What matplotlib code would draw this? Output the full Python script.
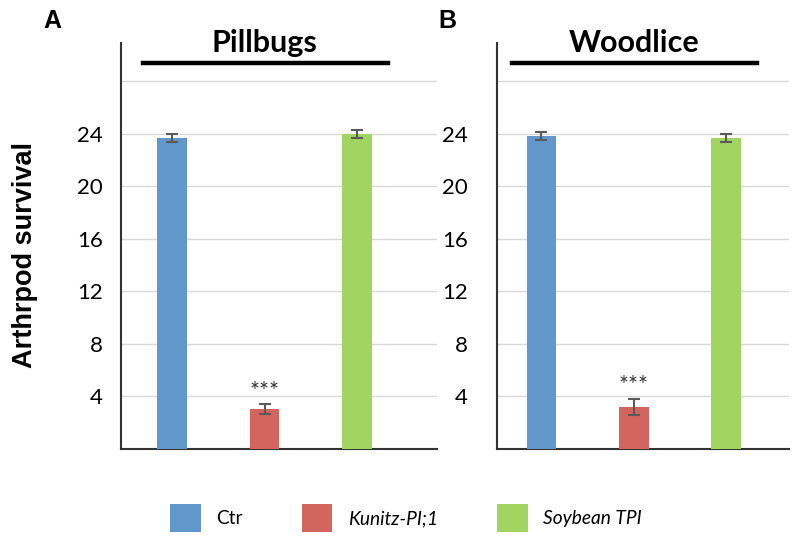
import matplotlib
matplotlib.use("Agg")
import matplotlib.pyplot as plt
from matplotlib.patches import Patch

categories = ["Ctr", "Kunitz-PI;1", "Soybean TPI"]
colors = ["#6197cb", "#d2665f", "#a2d461"]

pillbugs_mean = [23.7, 3.05, 23.95]
pillbugs_err = [0.3, 0.35, 0.3]
woodlice_mean = [23.8, 3.2, 23.65]
woodlice_err = [0.3, 0.6, 0.3]

yticks = [4, 8, 12, 16, 20, 24]
gridvals = [4, 8, 12, 16, 20, 24, 28]

W, H = 800, 546
fig = plt.figure(figsize=(W / 100, H / 100), dpi=100)

body_font = ["Lato", "DejaVu Sans"]


def make_panel(rect, means, errs, title, letter, letter_xy, xlim, tick_pad, bar_x):
    ax = fig.add_axes(rect)
    x = list(range(len(categories)))
    ax.bar(x, means, width=0.32, color=colors, zorder=3)
    ax.errorbar(x, means, yerr=errs, fmt="none", ecolor="#5a5a5a",
                elinewidth=1.5, capsize=4.5, capthick=1.5, zorder=4)
    ax.text(1, means[1] + errs[1] + 0.2, "***", ha="center", va="bottom",
            fontsize=17, color="#333333", family=body_font, zorder=5)
    for g in gridvals:
        ax.axhline(g, color="#d9d9d9", lw=1.0, zorder=1)
    ax.set_ylim(0, 30.9)
    ax.set_xlim(*xlim)
    ax.set_yticks(yticks)
    ax.set_yticklabels([str(t) for t in yticks], family=body_font, fontsize=16)
    ax.tick_params(axis="y", length=0, pad=tick_pad)
    ax.set_xticks([])
    for s in ["top", "right"]:
        ax.spines[s].set_visible(False)
    ax.spines["left"].set_color("#333333")
    ax.spines["bottom"].set_color("#333333")
    ax.spines["left"].set_linewidth(1.5)
    ax.spines["bottom"].set_linewidth(1.5)
    ax.text(1, 1.0, title, transform=ax.get_xaxis_transform(), ha="center",
            va="center", fontsize=22, fontweight="bold", family=body_font,
            clip_on=False)
    ax.plot(bar_x, [29.4, 29.4], color="black", lw=3.2, clip_on=False, zorder=5)
    fig.text(letter_xy[0] / W, 1 - letter_xy[1] / H, letter, fontsize=18,
             fontweight="bold", family=["Liberation Sans", "DejaVu Sans"],
             ha="center", va="center")
    return ax


top_px, bot_px = 43, 449
axA = make_panel([121 / W, 1 - bot_px / H, (437 - 121) / W, (bot_px - top_px) / H],
                 pillbugs_mean, pillbugs_err, "Pillbugs", "A", (52, 21),
                 (-0.55, 2.86), 13, [-0.31, 2.33])
axB = make_panel([497 / W, 1 - bot_px / H, (789 - 497) / W, (bot_px - top_px) / H],
                 woodlice_mean, woodlice_err, "Woodlice", "B", (447, 21),
                 (-0.48, 2.68), 21, [-0.32, 2.33])

fig.text(25 / W, 1 - 255 / H, "Arthrpod survival", rotation=90, ha="center",
         va="center", fontsize=19.5, fontweight="bold",
         family=["Liberation Sans", "DejaVu Sans"])

handles = [Patch(facecolor=c, edgecolor="none") for c in colors]
leg = fig.legend(handles, categories, loc="center", ncol=3,
                 bbox_to_anchor=(406 / W, 1 - 518 / H), frameon=False,
                 prop={"family": body_font, "size": 13.8},
                 handlelength=1.6, handleheight=1.8, handletextpad=0.8,
                 columnspacing=3.1)
for i, t in enumerate(leg.get_texts()):
    if i > 0:
        t.set_style("italic")

fig.savefig("out.png", dpi=100)
